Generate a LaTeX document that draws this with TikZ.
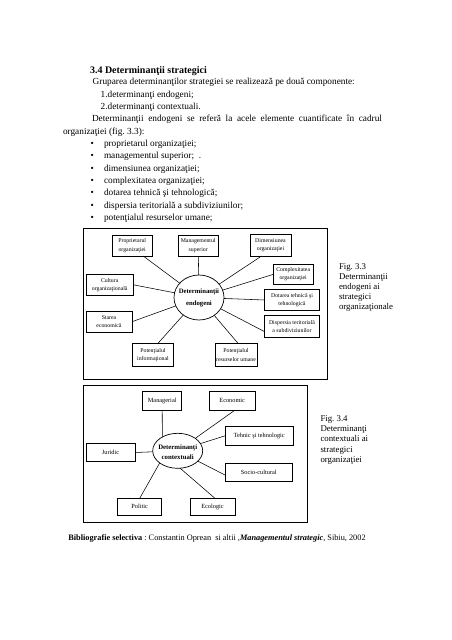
\documentclass[tikz,border=0pt]{standalone}
\usepackage{fontspec}
\setmainfont{Liberation Serif}
\usetikzlibrary{shapes.geometric,calc}
\frenchspacing
\begin{document}
\begin{tikzpicture}[x=1pt,y=-1pt,
  every node/.style={inner sep=0pt,outer sep=0pt},
  body/.style={anchor=base west,font=\fontsize{9.3}{11}\selectfont},
  captxt/.style={anchor=base west,font=\fontsize{8.8}{10}\selectfont},
  frame/.style={draw,line width=0.9pt},
  box/.style={draw,line width=0.7pt,align=center,font=\fontsize{5.8}{8.3}\selectfont},
  boxb/.style={draw,line width=0.7pt,align=center,font=\fontsize{6.3}{8}\selectfont},
  ellbox/.style={draw,ellipse,line width=0.7pt},
  conn/.style={line width=0.55pt}]
\useasboundingbox (0,0) rectangle (452,640);
\fill[white] (0,0) rectangle (452,640);

% ---------- text ----------
\node[body,font=\bfseries\fontsize{10}{12}\selectfont] (title) at (90,73.5) {3.4 Determinanţii strategici};
\node[body] (l0) at (92.7,84.7) {Gruparea determinanţilor strategiei se realizează pe două componente:};
\node[body] (l1) at (100.7,97) {1.determinanţi endogeni;};
\node[body] (l2) at (100.7,109.4) {2.determinanţi contextuali.};
\node[body] (l3) at (92,121.7) {\makebox[290pt][s]{Determinanţii endogeni se referă la acele elemente cuantificate în cadrul}};
\node[body] (l4) at (63,134) {organizaţiei (fig. 3.3):};
\foreach \i/\t in {0/{proprietarul organizaţiei;},1/{managementul superior;\ \ .},2/{dimensiunea organizaţiei;},3/{complexitatea organizaţiei;},4/{dotarea tehnică şi tehnologică;},5/{dispersia teritorială a subdiviziunilor;},6/{potenţialul resurselor umane;}}{
  \node[body] (bul\i) at (90.5,146.4+12.33*\i) {\textbullet};
  \node[body] (bt\i) at (104,146.4+12.33*\i) {\t};
}

% ---------- figure 3.3 ----------
\draw[frame] (83,228) rectangle (327,379.5);
\node[ellbox,minimum width=50,minimum height=45] (e1) at (199,297.5) {};
\node[align=center,font=\bfseries\fontsize{6.7}{11.6}\selectfont] (e1t) at (199,298) {Determinanţii\\endogeni};

\node[box,minimum width=40.5,minimum height=21] (prop) at (132.2,245.5) {Proprietarul\\organizaţiei};
\node[box,minimum width=40.3,minimum height=21] (mgmt) at (198.2,245.5) {Managementul\\superior};
\node[box,minimum width=41,minimum height=21.5] (dim) at (270.5,245.3) {Dimensiunea\\organizaţiei};
\node[box,minimum width=40.3,minimum height=20.3] (compl) at (293.2,274.4) {Complexitatea\\organizaţiei};
\node[box,minimum width=55,minimum height=21] (dot) at (292,300) {Dotarea tehnică şi\\tehnologică};
\node[box,minimum width=55.5,minimum height=22.4] (disp) at (292,326.5) {Dispersia teritorială\\a subdiviziunilor};
\node[box,minimum width=42,minimum height=23.4] (potr) at (236,355) {Potenţialul\\resurselor umane};
\node[box,minimum width=40.6,minimum height=23.4] (poti) at (153,355) {Potenţialul\\informaţional};
\node[box,minimum width=46,minimum height=21.3] (stare) at (109,321.7) {Starea\\economică};
\node[box,minimum width=47.3,minimum height=21.7] (cult) at (109.7,284.8) {Cultura\\organizaţională};

\draw[conn] ($(prop.south)+(11,0)$) -- (e1);
\draw[conn] (mgmt) -- (e1);
\draw[conn] ($(dim.south)+(-9,0)$) -- (e1);
\draw[conn] (compl.west) -- (e1);
\draw[conn] (dot.west) -- (e1);
\draw[conn] ($(disp.west)+(0,5)$) -- (e1);
\draw[conn] ($(potr.north)+(2,0)$) -- (e1);
\draw[conn] ($(poti.north)+(5,0)$) -- (e1);
\draw[conn] (stare.east) -- (e1);
\draw[conn] (cult.east) -- (e1);

\node[captxt] (c3a) at (339,269.5) {Fig. 3.3};
\node[captxt] (c3b) at (339,279.6) {Determinanţii};
\node[captxt] (c3c) at (339,289.7) {endogeni ai};
\node[captxt] (c3d) at (339,299.8) {strategici};
\node[captxt] (c3e) at (339,309.9) {organizaţionale};

% ---------- figure 3.4 ----------
\draw[frame] (83,385) rectangle (307,522.5);
\node[ellbox,minimum width=50,minimum height=35] (e2) at (177.7,450.8) {};
\node[align=center,font=\bfseries\fontsize{6.8}{10}\selectfont] (e2t) at (177.7,452) {Determinanţi\\contextuali};

\node[boxb,minimum width=39,minimum height=18.3] (man) at (162.2,400.8) {Managerial};
\node[boxb,minimum width=45.7,minimum height=18.3] (eco) at (232.2,400.8) {Economic};
\node[boxb,minimum width=68.3,minimum height=18.3] (teh) at (259.2,435.8) {Tehnic şi tehnologic};
\node[boxb,minimum width=49,minimum height=18.3] (jur) at (110.5,452.5) {Juridic};
\node[boxb,minimum width=67.7,minimum height=18.3] (soc) at (258.8,472.5) {Socio-cultural};
\node[boxb,minimum width=44,minimum height=16.7] (pol) at (139.7,506.7) {Politic};
\node[boxb,minimum width=45,minimum height=16.7] (ecol) at (212.5,506.7) {Ecologic};

\draw[conn] (man.south) -- (e2.138.5);
\draw[conn] ($(eco.south)+(3,0)$) -- (e2);
\draw[conn] (teh.west) -- (e2);
\draw[conn] (jur.east) -- (e2);
\draw[conn] ($(soc.west)+(0,2.5)$) -- (e2);
\draw[conn] ($(ecol.north)+(2.5,0)$) -- (e2.-82);
\draw[conn] (pol.north) -- (e2.214);

\node[captxt] (c4a) at (320.5,421) {Fig. 3.4};
\node[captxt] (c4b) at (320.5,431.4) {Determinanţi};
\node[captxt] (c4c) at (320.5,441.8) {contextuali ai};
\node[captxt] (c4d) at (320.5,452.2) {strategici};
\node[captxt] (c4e) at (320.5,462.6) {organizaţiei};

% ---------- bibliography ----------
\node[anchor=base west,font=\fontsize{8.3}{10}\selectfont] (bib) at (68.3,540.5)
 {\textbf{Bibliografie selectiva} : Constantin Oprean~ si altii ,\textbf{\textit{Managementul strategic}}, Sibiu, 2002};
\end{tikzpicture}
\end{document}
